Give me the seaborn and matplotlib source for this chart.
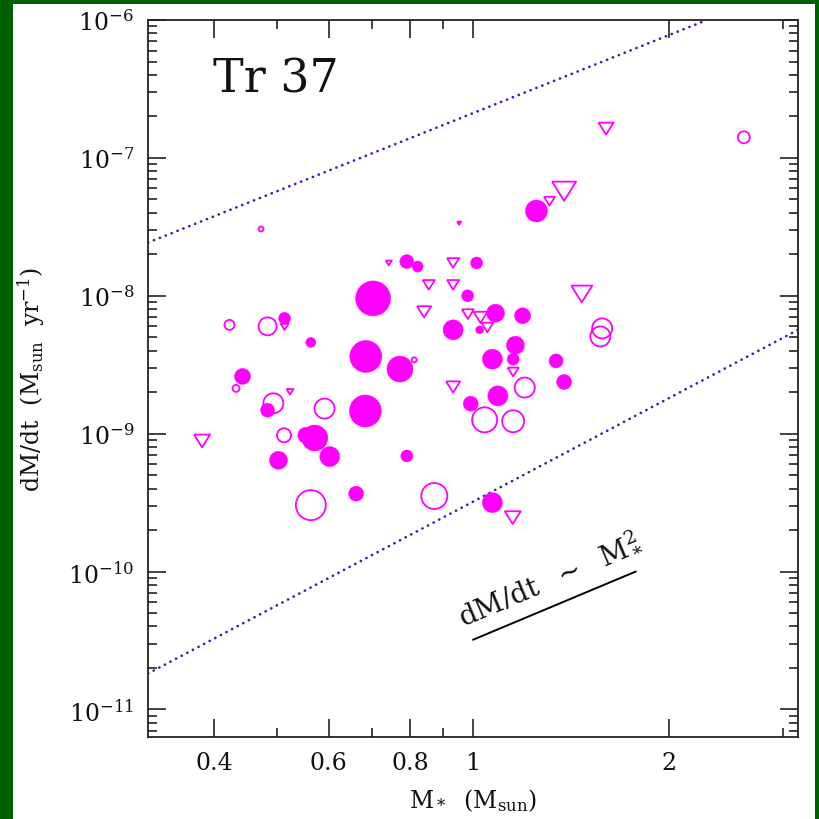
import numpy as np
import pandas as pd
import matplotlib
matplotlib.use("Agg")
import matplotlib.pyplot as plt
from matplotlib.patches import Rectangle
from matplotlib.ticker import FixedLocator, FixedFormatter, NullFormatter, LogLocator
import seaborn as sns

# accretors (filled circles): stellar mass, accretion rate, symbol scale
fill_mass = [1.252, 0.791, 0.822, 1.013, 0.981, 1.083, 1.024, 0.932, 1.192, 1.162,
             1.153, 1.071, 1.342, 1.381, 1.092, 0.992, 0.791, 1.071, 0.702, 0.513,
             0.563, 0.684, 0.772, 0.442, 0.483, 0.683, 0.553, 0.571, 0.602, 0.502,
             0.661]
fill_mdot = [4.12e-8, 1.77e-8, 1.63e-8, 1.73e-8, 1.0e-8, 7.48e-9, 5.66e-9, 5.66e-9, 7.16e-9, 4.38e-9,
             3.47e-9, 3.47e-9, 3.37e-9, 2.37e-9, 1.88e-9, 1.65e-9, 6.89e-10, 3.16e-10, 9.57e-9, 6.86e-9,
             4.59e-9, 3.63e-9, 2.94e-9, 2.6e-9, 1.48e-9, 1.46e-9, 9.73e-10, 9.3e-10, 6.82e-10, 6.41e-10,
             3.67e-10]
fill_sym = [22, 14, 11, 12, 12, 18, 8, 20, 16, 18,
            12, 20, 14, 15, 20, 15, 12, 20, 35, 12,
            10, 32, 26, 16, 14, 32, 16, 26, 20, 18,
            15]

# open circles
open_mass = [0.472, 2.61, 1.58, 1.57, 1.201, 1.042, 1.153, 0.872, 0.812, 0.422,
             0.483, 0.432, 0.493, 0.591, 0.512, 0.563]
open_mdot = [3.05e-8, 1.41e-7, 5.8e-9, 5.07e-9, 2.16e-9, 1.26e-9, 1.23e-9, 3.53e-10, 3.43e-9, 6.15e-9,
             6.0e-9, 2.13e-9, 1.66e-9, 1.52e-9, 9.73e-10, 3.03e-10]
open_sym = [5, 12, 20, 20, 20, 25, 22, 26, 5, 10,
            18, 7, 20, 20, 14, 30]

# upper limits (open triangles)
tri_mass = [1.311, 1.381, 1.602, 1.47, 0.932, 0.855, 0.932, 0.841, 0.982, 1.027,
            1.052, 1.153, 0.932, 1.151, 0.742, 0.513, 0.523, 0.383, 0.952]
tri_mdot = [4.85e-8, 5.73e-8, 1.63e-7, 1.03e-8, 1.73e-8, 1.2e-8, 1.2e-8, 7.65e-9, 7.36e-9, 6.97e-9,
            5.89e-9, 2.8e-9, 2.18e-9, 2.46e-10, 1.73e-8, 5.96e-9, 2.01e-9, 8.85e-10, 3.36e-8]
tri_sym = [11, 24, 15, 21, 12, 12, 12, 14, 12, 14,
           12, 11, 14, 16, 6, 8, 7, 16, 4]

# dotted envelopes and the M^2 guide
upper_mass = [10**-0.5, 2.29]
upper_mdot = [2.43e-8, 1.0e-6]
lower_mass = [10**-0.5, 10**0.5]
lower_mdot = [1.82e-11, 5.66e-9]
guide_mass = [1.0, 1.78]
guide_mdot = [3.2e-11, 1.0e-10]

x_major = [0.4, 0.6, 0.8, 1, 2]
x_labels = ["0.4", "0.6", "0.8", "1", "2"]
x_minor = [0.5, 0.7, 0.9, 3]
y_major = [1e-11, 1e-10, 1e-9, 1e-8, 1e-7, 1e-6]
y_labels = ["$10^{-11}$", "$10^{-10}$", "$10^{-9}$", "$10^{-8}$", "$10^{-7}$", "$10^{-6}$"]

MAGENTA = "#ff00ff"
DOTBLUE = "#2828b0"
INK = "#111111"

sns.set_theme(style="ticks")
plt.rcParams["font.family"] = ["DejaVu Serif"]
plt.rcParams["mathtext.fontset"] = "dejavuserif"

fig = plt.figure(figsize=(8.19, 8.20), dpi=100, facecolor="#006000")
fig.add_artist(Rectangle((13 / 819, 0), 802 / 819, 815 / 820, transform=fig.transFigure,
                         facecolor="white", edgecolor="none", zorder=-1))
ax = fig.add_axes([148 / 819, 82 / 820, 650 / 819, 717 / 820])
ax.set_facecolor("white")
ax.set_xscale("log")
ax.set_yscale("log")


def px_to_s(sym):
    return (np.asarray(sym, dtype=float) * 0.72) ** 2


for xs, ys in [(upper_mass, upper_mdot), (lower_mass, lower_mdot)]:
    sns.lineplot(x=xs, y=ys, ax=ax, color=DOTBLUE, linewidth=1.9,
                 linestyle=(0, (0.1, 2.3)), dash_capstyle="round",
                 estimator=None, sort=False, zorder=2)
sns.lineplot(x=guide_mass, y=guide_mdot, ax=ax, color="black", linewidth=1.4,
             estimator=None, sort=False, zorder=2)

filled = pd.DataFrame({"mass": fill_mass, "mdot": fill_mdot, "sym": fill_sym})
opened = pd.DataFrame({"mass": open_mass, "mdot": open_mdot, "sym": open_sym})
limits = pd.DataFrame({"mass": tri_mass, "mdot": tri_mdot, "sym": tri_sym})

sns.scatterplot(data=filled, x="mass", y="mdot", s=px_to_s(filled["sym"]),
                color=MAGENTA, edgecolor=MAGENTA, linewidth=0.3, ax=ax,
                legend=False, zorder=3)
sns.scatterplot(data=opened, x="mass", y="mdot", s=px_to_s(opened["sym"]),
                color=MAGENTA, facecolor="none", edgecolor=MAGENTA, linewidth=1.3,
                ax=ax, legend=False, zorder=3)
tri = [(-1, 0.8), (1, 0.8), (0, -0.8), (-1, 0.8)]
sns.scatterplot(data=limits, x="mass", y="mdot", s=px_to_s(limits["sym"]),
                marker=tri, color=MAGENTA, facecolor="none", edgecolor=MAGENTA,
                linewidth=1.3, ax=ax, legend=False, zorder=3)

ax.set_xlim(10**-0.5, 10**0.5)
ax.set_ylim(10**-11.2, 1e-6)
ax.xaxis.set_major_locator(FixedLocator(x_major))
ax.xaxis.set_major_formatter(FixedFormatter(x_labels))
ax.xaxis.set_minor_locator(FixedLocator(x_minor))
ax.xaxis.set_minor_formatter(NullFormatter())
ax.yaxis.set_major_locator(FixedLocator(y_major))
ax.yaxis.set_major_formatter(FixedFormatter(y_labels))
ax.yaxis.set_minor_locator(LogLocator(base=10, subs=np.arange(2, 10), numticks=30))
ax.yaxis.set_minor_formatter(NullFormatter())

ax.tick_params(which="both", direction="in", top=True, right=True,
               color="#222222", width=1.2, labelsize=17, labelcolor=INK)
ax.tick_params(which="major", length=13, pad=10)
ax.tick_params(which="minor", length=6.5)
for sp in ax.spines.values():
    sp.set_visible(True)
    sp.set_linewidth(1.3)
    sp.set_color("#222222")

ax.set_xlabel(r"M$_*$  (M$_{\rm sun}$)", fontsize=17, color=INK)
ax.set_ylabel(r"dM/dt  (M$_{\rm sun}$  yr$^{-1}$)", fontsize=17, color=INK)
ax.xaxis.set_label_coords(0.5, -0.068)
ax.yaxis.set_label_coords(-0.155, 0.5)

ax.text(0.1, 0.9, "Tr 37", transform=ax.transAxes, fontsize=33,
        color=INK, va="baseline", ha="left")
ax.text(1.31, 9.2e-11, r"dM/dt  $\sim$  M$_*^2$", fontsize=20, color=INK,
        rotation=23, rotation_mode="anchor", ha="center", va="center")

fig.savefig("out.png", dpi=100, facecolor=fig.get_facecolor())
